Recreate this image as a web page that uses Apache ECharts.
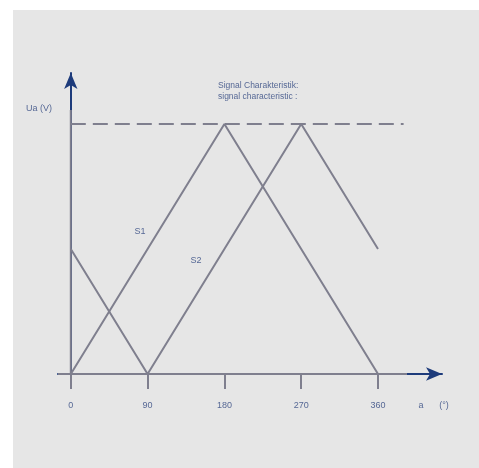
<!DOCTYPE html>
<html>
<head>
<meta charset="utf-8">
<script src="https://cdn.jsdelivr.net/npm/echarts@6/dist/echarts.min.js"></script>
<style>
  html, body { margin: 0; padding: 0; background: #fff; }
  #main { width: 479px; height: 468px; }
</style>
</head>
<body>
<div id="main"></div>
<script>
// angle (deg) and output level (relative, 1 = max)
const angles = [0, 90, 180, 270, 360];
const s1Values = [0, 0.5, 1, 0.5, 0];
const s2Values = [0.5, 0, 0.5, 1, 0.5];
const tickLabels = ['0', '90', '180', '270', '360'];

// dashed max level line
const levelAngles = [0, 390];
const levelValues = [1, 1];

// grey part of the axis shafts (rest is dark blue with the arrow)
const xShaft = [-15, 394];
const yShaft = [0, 1.056];

const lineGrey = '#7f7f8e';
const navy = '#1d3b7b';
const textBlue = '#566895';
const font = '"Liberation Sans", Arial, sans-serif';

const chart = echarts.init(document.getElementById('main'));

const pairs = (xs, ys) => xs.map((x, i) => [x, ys[i]]);

const lineSeries = (name, data, extra) => Object.assign({
  name: name,
  type: 'line',
  data: data,
  symbol: 'none',
  silent: true,
  lineStyle: { color: lineGrey, width: 2 },
  z: 3
}, extra || {});

chart.setOption({
  backgroundColor: '#fff',
  animation: false,
  grid: { left: 58, right: 37, top: 73, bottom: 94 },
  xAxis: {
    type: 'value',
    min: -15,
    max: 435,
    splitLine: { show: false },
    axisLine: {
      show: true,
      symbol: ['none', 'arrow'],
      symbolSize: [10, 16],
      lineStyle: { color: navy, width: 2 }
    },
    axisTick: {
      show: true,
      customValues: angles,
      length: 15,
      lineStyle: { color: lineGrey, width: 2 }
    },
    axisLabel: {
      customValues: angles,
      formatter: v => tickLabels[angles.indexOf(v)],
      margin: 27,
      color: textBlue,
      fontSize: 9,
      fontFamily: font
    }
  },
  yAxis: {
    type: 'value',
    min: 0,
    max: 1.204,
    splitLine: { show: false },
    axisTick: { show: false },
    axisLabel: { show: false },
    axisLine: {
      show: true,
      onZero: true,
      symbol: ['none', 'arrow'],
      symbolSize: [10, 16],
      lineStyle: { color: navy, width: 2 }
    }
  },
  series: [
    lineSeries('axis-x', [[xShaft[0], 0], [xShaft[1], 0]], { z: 2 }),
    lineSeries('axis-y', [[0, yShaft[0]], [0, yShaft[1]]], { z: 2 }),
    lineSeries('level', pairs(levelAngles, levelValues), {
      lineStyle: { color: lineGrey, width: 2, type: [15, 7] }
    }),
    lineSeries('S1', pairs(angles, s1Values)),
    lineSeries('S2', pairs(angles, s2Values))
  ],
  graphic: [
    {
      type: 'rect', z: -10, silent: true,
      shape: { x: 13, y: 10, width: 466, height: 458 },
      style: { fill: '#e6e6e6' }
    },
    {
      type: 'text', silent: true,
      style: { text: 'Ua (V)', x: 26, y: 109, verticalAlign: 'middle', fill: textBlue, font: '9px ' + font }
    },
    {
      type: 'text', silent: true,
      style: { text: 'Signal Charakteristik:\nsignal characteristic :', x: 218, y: 80, lineHeight: 11, fill: textBlue, font: '8.5px ' + font }
    },
    {
      type: 'text', silent: true,
      style: { text: 'S1', x: 140, y: 232, align: 'center', verticalAlign: 'middle', fill: textBlue, font: '9px ' + font }
    },
    {
      type: 'text', silent: true,
      style: { text: 'S2', x: 196, y: 261, align: 'center', verticalAlign: 'middle', fill: textBlue, font: '9px ' + font }
    },
    {
      type: 'text', silent: true,
      style: { text: 'a', x: 421, y: 406, align: 'center', verticalAlign: 'middle', fill: textBlue, font: '9px ' + font }
    },
    {
      type: 'text', silent: true,
      style: { text: '(°)', x: 444, y: 406, align: 'center', verticalAlign: 'middle', fill: textBlue, font: '9px ' + font }
    }
  ]
});
</script>
</body>
</html>
